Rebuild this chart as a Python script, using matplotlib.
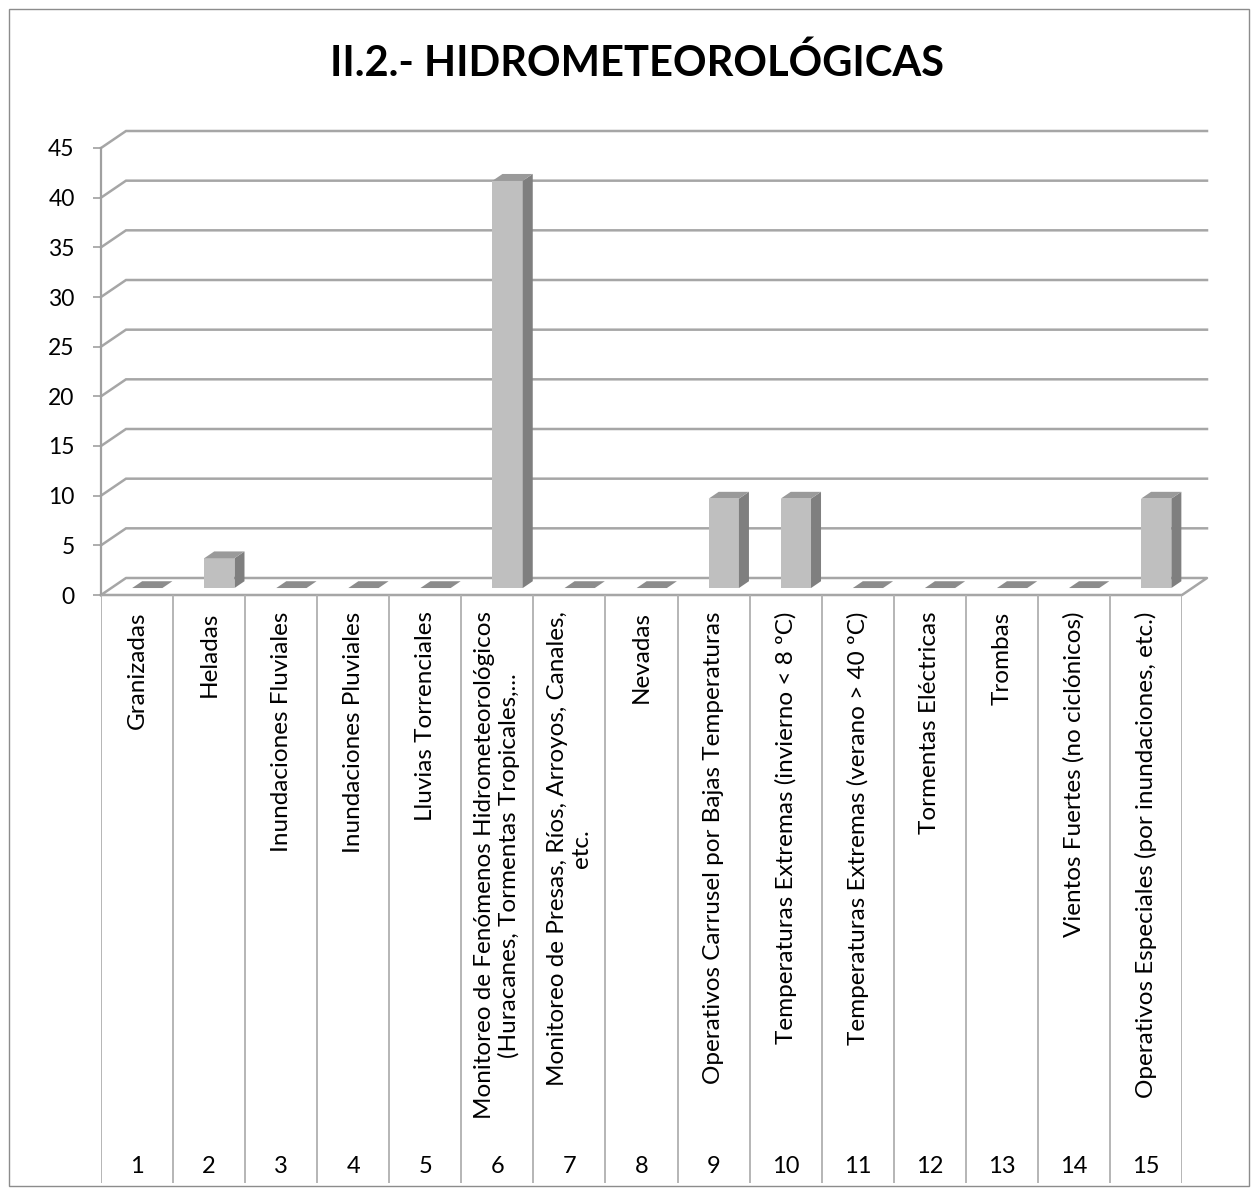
import numpy as np
import matplotlib.pyplot as plt
from matplotlib.patches import Polygon, Rectangle

# --- data ---
categorias = [
    'Granizadas',
    'Heladas',
    'Inundaciones Fluviales',
    'Inundaciones Pluviales',
    'Lluvias Torrenciales',
    'Monitoreo de Fenómenos Hidrometeorológicos\n(Huracanes, Tormentas Tropicales,...',
    'Monitoreo de Presas, Ríos, Arroyos, Canales,\netc.',
    'Nevadas',
    'Operativos Carrusel por Bajas Temperaturas',
    'Temperaturas Extremas (invierno < 8 ºC)',
    'Temperaturas Extremas (verano > 40 ºC)',
    'Tormentas Eléctricas',
    'Trombas',
    'Vientos Fuertes (no ciclónicos)',
    'Operativos Especiales (por inundaciones, etc.)',
]
numeros = [str(i) for i in range(1, 16)]
valores = [0, 3, 0, 0, 0, 41, 0, 0, 9, 9, 0, 0, 0, 0, 9]
yticks = list(range(0, 50, 5))

plt.rcParams['font.family'] = ['Lato', 'DejaVu Sans']

W, H = 1258, 1195
fig = plt.figure(figsize=(W / 100, H / 100), dpi=100)
fig.patches.append(Rectangle((9 / W, 9 / H), 1240 / W, 1177 / H, transform=fig.transFigure,
                             fill=False, edgecolor='#8c8c8c', lw=1))

n = len(valores)
cw = (1182 - 101) / n          # pixels per category
vu = (595 - 148) / 45          # pixels per value unit
ddx = 25 / cw                  # depth offset in x (category units)
ddy = 17 / vu                  # depth offset in y (value units)
ytop = 45 + ddy

ax_l, ax_r = 101, 101 + (n + ddx) * cw
ax_b, ax_t = 595, 595 - ytop * vu
ax = fig.add_axes([ax_l / W, (H - ax_b) / H, (ax_r - ax_l) / W, (ax_b - ax_t) / H])
ax.set_xlim(0, n + ddx)
ax.set_ylim(0, ytop)
ax.patch.set_alpha(0)
for s in ['top', 'right', 'bottom']:
    ax.spines[s].set_visible(False)
ax.spines['left'].set_bounds(0, 45)
ax.spines['left'].set_color('#a0a0a0')
ax.spines['left'].set_linewidth(1.6)
ax.set_xticks([])
ax.set_yticks(yticks)
ax.tick_params(axis='y', length=6, width=1.2, color='#a0a0a0', labelsize=16.5, pad=13)

grid_c = '#a6a6a6'
for y in yticks[1:]:
    ax.plot([0, ddx, n + ddx], [y, y + ddy, y + ddy], color=grid_c, lw=1.8, zorder=1,
            solid_joinstyle='miter', clip_on=False)
# floor
ax.plot([0, ddx, n + ddx, n, 0], [0, ddy, ddy, 0, 0], color=grid_c, lw=1.8, zorder=1,
        clip_on=False)

# bars
w = 0.42
f0, f1 = 0.41, 0.81
for i, v in enumerate(valores):
    x0 = i + 0.5 - w / 2
    xa, ya = x0 + f0 * ddx, f0 * ddy
    xb, yb = x0 + f1 * ddx, f1 * ddy
    top = [(xa, ya + v), (xa + w, ya + v), (xb + w, yb + v), (xb, yb + v)]
    if v > 0:
        ax.add_patch(Polygon([(xa, ya), (xa + w, ya), (xa + w, ya + v), (xa, ya + v)],
                             closed=True, fc='#bfbfbf', ec='none', zorder=3))
        ax.add_patch(Polygon([(xa + w, ya), (xb + w, yb), (xb + w, yb + v), (xa + w, ya + v)],
                             closed=True, fc='#7f7f7f', ec='none', zorder=3))
        ax.add_patch(Polygon(top, closed=True, fc='#9a9a9a', ec='none', zorder=3))
    else:
        ax.add_patch(Polygon(top, closed=True, fc='#8c8c8c', ec='none', zorder=3))

# category table below the floor
tb = 1183
tax = fig.add_axes([101 / W, (H - tb) / H, (n * cw) / W, (tb - 595) / H])
tax.set_xlim(0, n)
tax.set_ylim(0, 1)
tax.axis('off')
tax.vlines(range(n + 1), 0, 1, color='#b0b0b0', lw=1.3)
for i, (c, num) in enumerate(zip(categorias, numeros)):
    tax.text(i + 0.5, 0.972, c, rotation=90, ha='center', va='top', multialignment='center',
             fontsize=17.5, linespacing=1.15)
    tax.text(i + 0.5, 0.028, num, ha='center', va='center', fontsize=17)

fig.text(637 / W, 1 - 63 / H, 'II.2.- HIDROMETEOROLÓGICAS', ha='center', va='center',
         fontsize=30, fontweight='bold')

fig.savefig('out.png', dpi=100)
